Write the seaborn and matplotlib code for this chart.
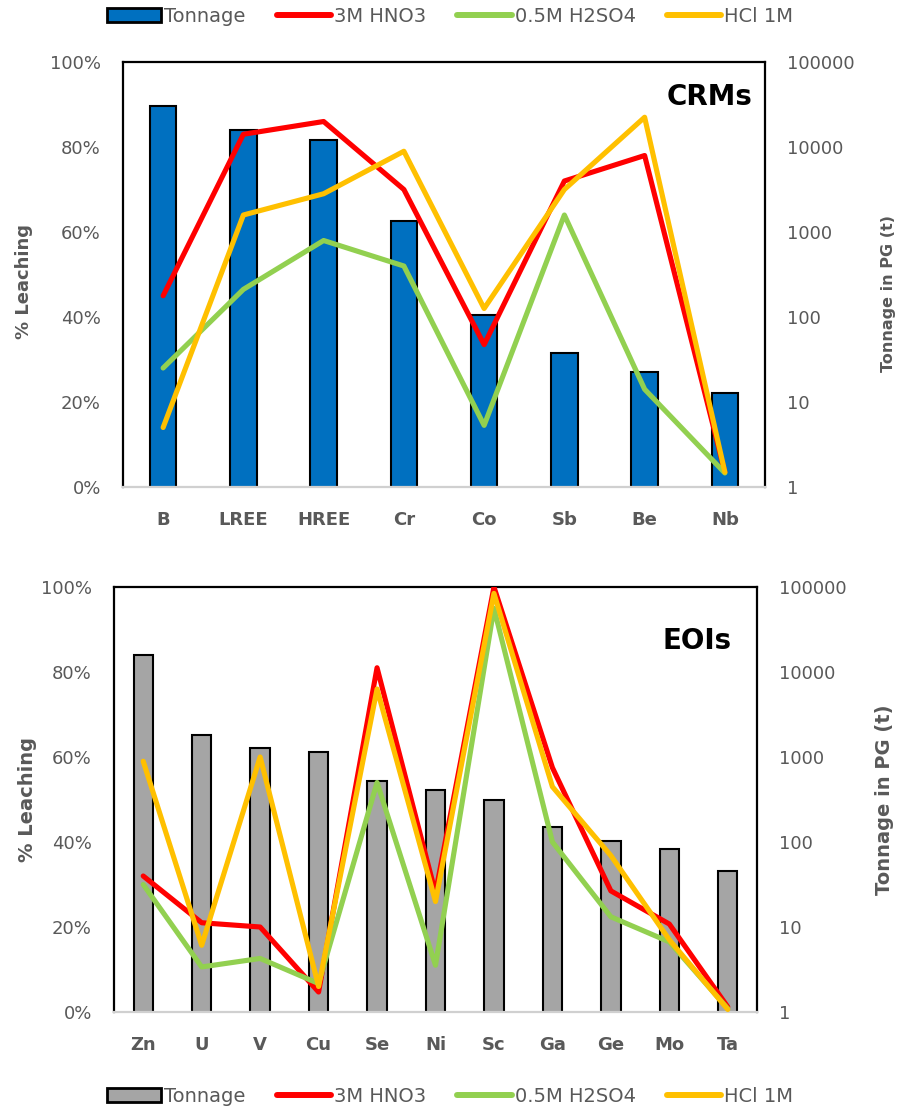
import numpy as np
import pandas as pd
import matplotlib
matplotlib.use("Agg")
import matplotlib.pyplot as plt
import matplotlib.ticker as mticker
from matplotlib.patches import Patch
from matplotlib.lines import Line2D
import seaborn as sns

# ---- data -------------------------------------------------------------
crm_elements = ["B", "LREE", "HREE", "Cr", "Co", "Sb", "Be", "Nb"]
crm_tonnage = [30000, 15900, 12200, 1360, 107, 38, 22.6, 12.6]
crm_hno3 = [45, 83, 86, 70, 33.5, 72, 78, 3.5]
crm_h2so4 = [28, 46.5, 58, 52, 14.5, 64, 23, 3.3]
crm_hcl = [14, 64, 69, 79, 42, 70, 87, 3.5]

eoi_elements = ["Zn", "U", "V", "Cu", "Se", "Ni", "Sc", "Ga", "Ge", "Mo", "Ta"]
eoi_tonnage = [15900, 1820, 1290, 1130, 524, 409, 314, 151, 104, 83, 45]
eoi_hno3 = [32, 21, 20, 4.7, 81, 28, 100, 57.5, 28.5, 20.7, 1.2]
eoi_h2so4 = [30, 10.6, 12.6, 6.7, 54, 11, 95, 40, 22.4, 16.5, 0.8]
eoi_hcl = [59, 15.7, 60, 6, 76, 26, 98.5, 53, 36.8, 17, 0.6]

acids = ["3M HNO3", "0.5M H2SO4", "HCl 1M"]
tonnage_ticks = [1, 10, 100, 1000, 10000, 100000]

# ---- style ------------------------------------------------------------
sns.set_style("white")
plt.rcParams["font.family"] = ["DejaVu Sans"]

GRAY_TXT = "#595959"
acid_colors = {"3M HNO3": "#FF0000", "0.5M H2SO4": "#92D050", "HCl 1M": "#FFC000"}
BLUE = "#0070C0"
GREY_BAR = "#A5A5A5"

W, H = 904, 1110
fig = plt.figure(figsize=(W / 100, H / 100), dpi=100)


def px_axes(left, top, right, bottom):
    return fig.add_axes([left / W, 1 - bottom / H, (right - left) / W, (bottom - top) / H])


def panel(ax, elements, tonnage, hno3, h2so4, hcl, bar_color, title, title_xy):
    n = len(elements)
    # bars: tonnage on a log axis (labels on the right)
    bars = pd.DataFrame({"element": elements, "tonnage": tonnage})
    sns.barplot(data=bars, x="element", y="tonnage", ax=ax, color=bar_color,
                edgecolor="black", linewidth=1.5, width=0.33, saturation=1)
    ax.set_yscale("log", nonpositive="clip")
    ax.set_ylim(1, 100000)
    ax.yaxis.set_major_locator(mticker.FixedLocator(tonnage_ticks))
    ax.yaxis.set_minor_locator(mticker.NullLocator())
    ax.yaxis.set_major_formatter(mticker.FuncFormatter(lambda v, p: f"{int(round(v))}"))
    ax.set_xlim(-0.5, n - 0.5)
    ax.set_xlabel("")
    ax.set_ylabel("")

    # leaching lines on a linear axis (labels on the left)
    lt = ax.twinx()
    long = pd.DataFrame({
        "pos": list(range(n)) * 3,
        "acid": [a for a in acids for _ in elements],
        "leach": [v / 100 for v in hno3 + h2so4 + hcl],
    })
    sns.lineplot(data=long, x="pos", y="leach", hue="acid", hue_order=acids,
                 palette=acid_colors, ax=lt, sort=False, legend=False,
                 linewidth=3.7, solid_joinstyle="round", solid_capstyle="round")
    lt.set_ylim(0, 1)
    lt.set_xlim(-0.5, n - 0.5)
    lt.yaxis.set_major_locator(mticker.MultipleLocator(0.2))
    lt.yaxis.set_major_formatter(mticker.PercentFormatter(1.0, decimals=0))
    lt.set_xlabel("")
    lt.set_ylabel("")

    ax.yaxis.tick_right()
    lt.yaxis.tick_left()

    ax.set_xticks(range(n))
    ax.set_xticklabels(elements)
    for a in (ax, lt):
        a.tick_params(axis="both", length=0)
        for s in a.spines.values():
            s.set_visible(False)
    ax.tick_params(axis="x", pad=17, labelsize=13, labelcolor=GRAY_TXT)
    for t in ax.get_xticklabels():
        t.set_fontweight("bold")
    ax.tick_params(axis="y", pad=16, labelsize=13, labelcolor=GRAY_TXT)
    lt.tick_params(axis="y", pad=16, labelsize=13, labelcolor=GRAY_TXT)

    for side in ("left", "top", "right"):
        ax.spines[side].set_visible(True)
        ax.spines[side].set_color("black")
        ax.spines[side].set_linewidth(1.6)
    ax.spines["bottom"].set_visible(True)
    ax.spines["bottom"].set_color("#D0D0D0")
    ax.spines["bottom"].set_linewidth(1.6)

    ax.text(title_xy[0], title_xy[1], title, transform=ax.transAxes, ha="right",
            va="top", fontsize=20, fontweight="bold", color="black")
    return lt


ax1 = px_axes(123, 62, 765, 487)
panel(ax1, crm_elements, crm_tonnage, crm_hno3, crm_h2so4, crm_hcl, BLUE,
      "CRMs", (0.981, 0.95))

ax2 = px_axes(114, 587, 757, 1012)
panel(ax2, eoi_elements, eoi_tonnage, eoi_hno3, eoi_h2so4, eoi_hcl, GREY_BAR,
      "EOIs", (0.961, 0.905))

# axis titles: (x, y, size) in pixels / points
left_titles = [(24, 281, 13), (28, 800, 14)]
right_titles = [(889, 293, 11.5), (885, 800, 14)]
for x, y, s in left_titles:
    fig.text(x / W, 1 - y / H, "% Leaching", rotation=90, ha="center",
             va="center", fontsize=s, fontweight="bold", color=GRAY_TXT)
for x, y, s in right_titles:
    fig.text(x / W, 1 - y / H, "Tonnage in PG (t)", rotation=90, ha="center",
             va="center", fontsize=s, fontweight="bold", color=GRAY_TXT)


# legends
def add_legend(bar_color, ycen):
    handles = [Patch(facecolor=bar_color, edgecolor="black", linewidth=2)]
    handles += [Line2D([], [], color=acid_colors[a], lw=4.3, solid_capstyle="round")
                for a in acids]
    labels = ["Tonnage"] + acids
    return fig.legend(handles, labels, loc="center", bbox_to_anchor=(450 / W, 1 - ycen / H),
                      ncol=4, frameon=False, fontsize=14, handlelength=2.8,
                      handletextpad=0.15, columnspacing=1.6, labelcolor=GRAY_TXT)


add_legend(BLUE, 16)
add_legend(GREY_BAR, 1096)

fig.savefig("out.png", dpi=100)
